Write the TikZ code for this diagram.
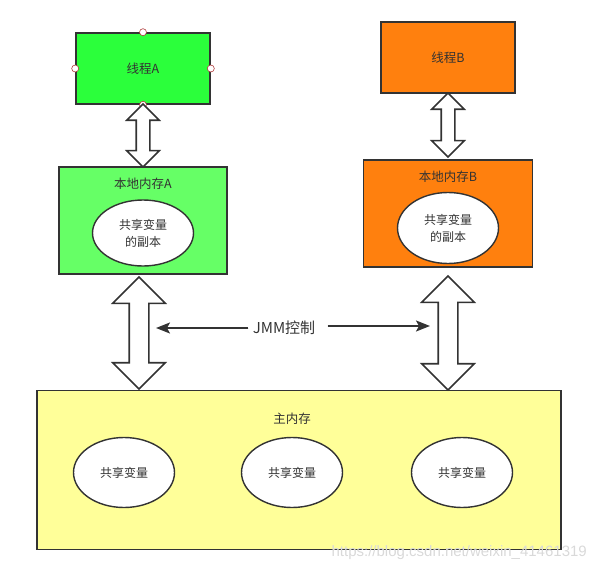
\documentclass[tikz,border=0pt]{standalone}
\usepackage{fontspec}
\setmainfont{Noto Sans CJK SC}
\newfontfamily\markfont{Liberation Sans}
\usetikzlibrary{arrows.meta,shapes.geometric,shapes.arrows}

\definecolor{lineGray}{HTML}{333333}
\definecolor{threadGreen}{HTML}{2BFF3B}
\definecolor{localGreen}{HTML}{66FF66}
\definecolor{threadOrange}{HTML}{FF800E}
\definecolor{mainYellow}{HTML}{FFFF99}
\definecolor{handleRed}{HTML}{B03A3A}

\begin{document}
\begin{tikzpicture}[x=1pt,y=-1pt]

\useasboundingbox (0,0) rectangle (596,572);

\begin{scope}[every node/.style={rectangle,draw=lineGray,line width=1.6pt,text=lineGray,
                                 font=\fontsize{12.5}{15}\selectfont}]
	\node[fill=threadGreen,minimum width=134pt,minimum height=71pt] (threadA) at (143,68.5) {线程A};
	\node[fill=threadOrange,minimum width=134pt,minimum height=71pt] (threadB) at (448,57.5) {线程B};
	\node[fill=localGreen,minimum width=168pt,minimum height=107pt] (localA) at (143,220.5) {};
	\node[fill=threadOrange,minimum width=169pt,minimum height=107pt] (localB) at (448,213.7) {};
	\node[fill=mainYellow,minimum width=524pt,minimum height=159pt] (main) at (299,470) {};
\end{scope}

\begin{scope}[every node/.style={text=lineGray,font=\fontsize{12.5}{15}\selectfont}]
	\node (localAlbl) at (143,184) {本地内存A};
	\node (localBlbl) at (448,177) {本地内存B};
	\node (mainlbl) at (292,418.6) {主内存};
\end{scope}

\begin{scope}[every node/.style={ellipse,draw=lineGray,line width=1.4pt,fill=white,text=lineGray,
                                 align=center,inner sep=0pt,minimum width=101pt,
                                 font=\fontsize{12}{17}\selectfont}]
	\node[minimum height=66pt] (copyA) at (143,233) {共享变量\\的副本};
	\node[minimum height=71pt] (copyB) at (448,228) {共享变量\\的副本};
	\node[minimum height=70pt] (var1) at (124,472.5) {共享变量};
	\node[minimum height=70pt] (var2) at (292,472.5) {共享变量};
	\node[minimum height=70pt] (var3) at (462,472.5) {共享变量};
\end{scope}

\begin{scope}[every node/.style={circle,draw=handleRed,fill=white,line width=0.6pt,
                                 inner sep=0pt,minimum size=7pt}]
	\node (hN) at (threadA.north) {};
	\node (hS) at (threadA.south) {};
	\node (hE) at (threadA.east) {};
	\node (hW) at (threadA.west) {};
\end{scope}

\begin{scope}[every node/.style={double arrow,rotate=90,draw=lineGray,line width=1.6pt,
                                 fill=white,double arrow tip angle=90,inner xsep=0pt}]
	\node[minimum height=63pt,inner ysep=6pt,minimum width=31pt,double arrow head extend=9.5pt] (syncA) at (143,135.5) {};
	\node[minimum height=64pt,inner ysep=6pt,minimum width=31pt,double arrow head extend=9.5pt] (syncB) at (448,125) {};
	\node[minimum height=112pt,inner ysep=9pt,minimum width=51pt,double arrow head extend=16.5pt] (flowA) at (139,333) {};
	\node[minimum height=114pt,inner ysep=9pt,minimum width=51pt,double arrow head extend=16.5pt] (flowB) at (448,333) {};
\end{scope}

\node[text=lineGray,font=\fontsize{15}{18}\selectfont] (jmm) at (284,328) {JMM控制};
\coordinate (jmmL) at (156,328);
\coordinate (jmmR) at (430,326);

\begin{scope}[>={Stealth[length=14pt,width=11pt,inset=3pt]},
              every path/.style={draw=lineGray,fill=lineGray,line width=1.5pt}]
	\draw [->] ([xshift=-1pt]jmm.west) -- (jmmL);
	\draw [->] ([xshift=9pt,yshift=2pt]jmm.east) -- (jmmR);
\end{scope}

\node[anchor=east,text=gray!30,inner sep=0pt,font=\markfont\fontsize{15}{18}\selectfont] (mark) at (587,553) {https://blog.csdn.net/weixin\_41461319};

\end{tikzpicture}
\end{document}
